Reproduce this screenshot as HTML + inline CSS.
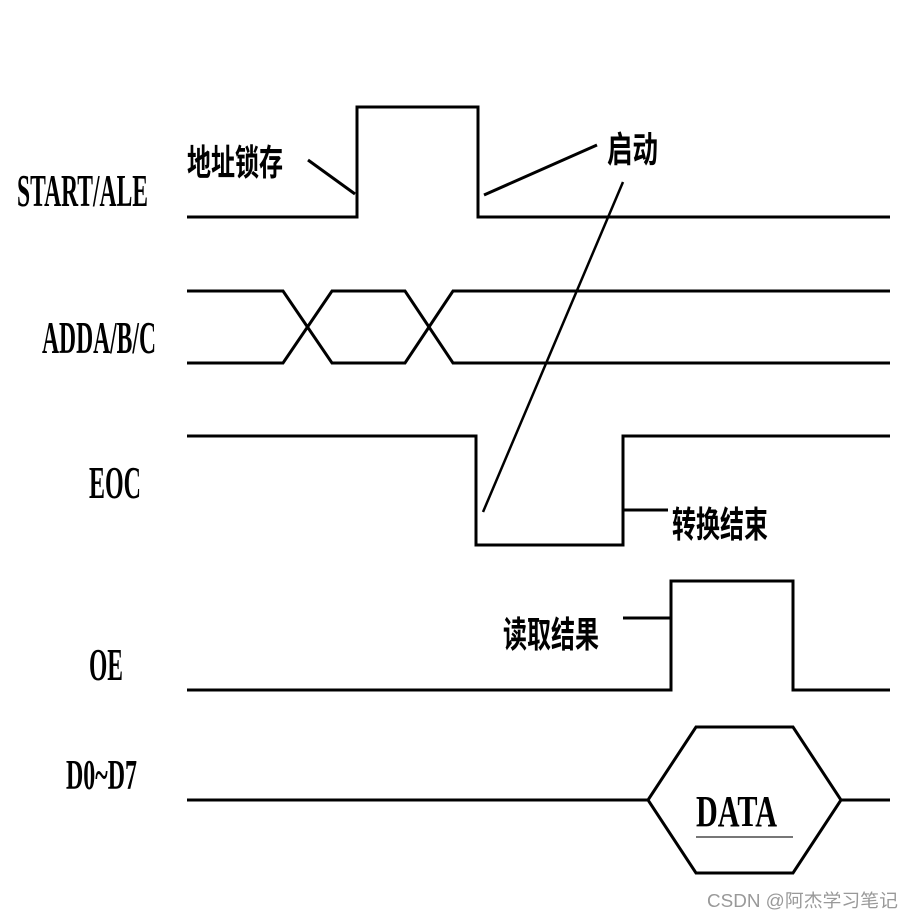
<!DOCTYPE html>
<html><head><meta charset="utf-8"><style>
html,body{margin:0;padding:0;background:#fff;}
body{width:915px;height:918px;position:relative;overflow:hidden;}
svg{position:absolute;left:0;top:0;}
.l{font-family:"Liberation Serif",serif;font-weight:bold;fill:#000;}
.c{font-family:"Liberation Sans","Noto Sans CJK SC",sans-serif;fill:#000;font-size:36px;font-weight:bold;}
</style></head><body>
<svg width="915" height="918" viewBox="0 0 915 918">
<g fill="none" stroke="#000" stroke-width="3">
<polyline points="187,217 357,217 357,107 478,107 478,217 890,217"/>
<line x1="308" y1="160" x2="355" y2="194"/>
<line x1="484" y1="195" x2="597" y2="145"/>
<line x1="623" y1="182" x2="483" y2="512" stroke-width="2.5"/>
<polyline points="187,291 283,291 332,363 405,363 453,291 890,291"/>
<polyline points="187,363 283,363 332,291 405,291 453,363 890,363"/>
<polyline points="187,436 476,436 476,545 623,545 623,436 890,436"/>
<line x1="623" y1="510" x2="668" y2="510"/>
<polyline points="187,690 671,690 671,581 793,581 793,690 890,690"/>
<line x1="623" y1="618" x2="670" y2="618"/>
<polyline points="187,800 648,800"/>
<polygon points="648,800 696,727 793,727 841,800 793,873 696,873"/>
<line x1="841" y1="800" x2="890" y2="800"/>
</g>
<line x1="696" y1="837" x2="793" y2="837" stroke="#777" stroke-width="2"/>
<text class="l" x="17" y="206" font-size="46" textLength="131" lengthAdjust="spacingAndGlyphs">START/ALE</text>
<text class="l" x="42" y="353" font-size="46" textLength="114" lengthAdjust="spacingAndGlyphs">ADDA/B/C</text>
<text class="l" x="89" y="498" font-size="46" textLength="52" lengthAdjust="spacingAndGlyphs">EOC</text>
<text class="l" x="89" y="680" font-size="46" textLength="34" lengthAdjust="spacingAndGlyphs">OE</text>
<text class="l" x="66" y="789" font-size="42" textLength="71" lengthAdjust="spacingAndGlyphs">D0~D7</text>
<text class="l" x="696" y="826" font-size="44" textLength="81" lengthAdjust="spacingAndGlyphs">DATA</text>
<text class="c" x="187" y="175" textLength="96" lengthAdjust="spacingAndGlyphs">地址锁存</text>
<text class="c" x="607" y="162" textLength="51" lengthAdjust="spacingAndGlyphs">启动</text>
<text class="c" x="672" y="537" textLength="96" lengthAdjust="spacingAndGlyphs">转换结束</text>
<text class="c" x="503" y="647" textLength="96" lengthAdjust="spacingAndGlyphs">读取结果</text>
<text x="707" y="907" font-family="Liberation Sans,'Noto Sans CJK SC',sans-serif" font-size="18" fill="#999" textLength="191" lengthAdjust="spacingAndGlyphs">CSDN @阿杰学习笔记</text>
</svg>
</body></html>
